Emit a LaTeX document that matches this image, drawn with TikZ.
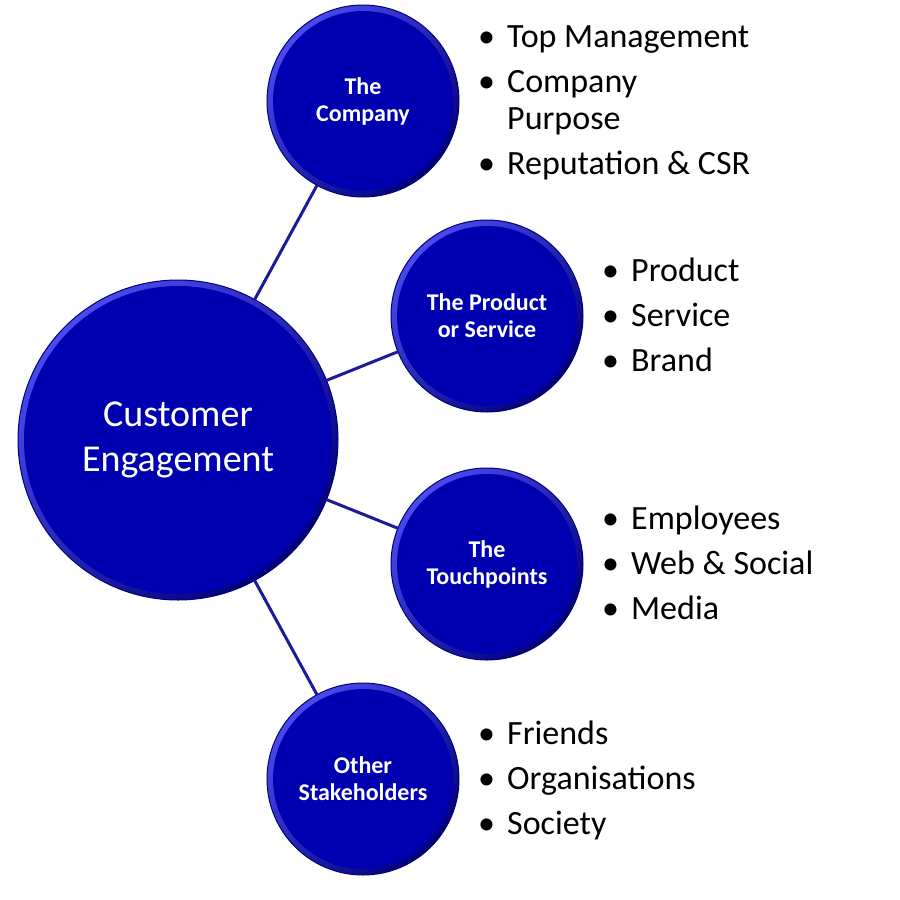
\documentclass[tikz,border=0pt]{standalone}
\usepackage{fontspec}
\setmainfont{Carlito}
\usetikzlibrary{positioning}
\definecolor{discblue}{HTML}{0000B0}
\definecolor{rimblue}{HTML}{4A4AEE}
\definecolor{edgeblue}{HTML}{00007A}
\definecolor{linkblue}{HTML}{1C1C98}

\tikzset{
  disc/.style={circle,draw=edgeblue,line width=1pt,inner sep=0pt,outer sep=0pt,
    minimum size=#1,top color=rimblue,bottom color=edgeblue,shading angle=45,
    path picture={\fill[discblue] (path picture bounding box.center) circle[radius={#1/2-6pt}];}},
  hubtext/.style={text=white,align=center,font=\fontsize{38}{45}\selectfont},
  topictext/.style={text=white,align=center,font=\bfseries\fontsize{24}{27}\selectfont},
  bulletlist/.style={anchor=base west,inner sep=0pt,font=\fontsize{34}{37}\selectfont},
  link/.style={draw=linkblue,line width=3pt}
}

\begin{document}
\begin{tikzpicture}[x=1pt,y=-1pt]
  \useasboundingbox[fill=white] (0,0) rectangle (900,900);
  % circles
  \node[disc=320pt,hubtext] (eng) at (178,440) {Customer\\Engagement};
  \node[disc=192pt,topictext] (comp) at (363,101) {The\\Company};
  \node[disc=192pt,topictext] (prod) at (487,316) {The Product\\or Service};
  \node[disc=192pt,topictext] (touch) at (487,564) {The\\Touchpoints};
  \node[disc=192pt,topictext] (other) at (363,779) {Other\\Stakeholders};
  \draw[link] (eng) -- (comp);
  \draw[link] (eng) -- (prod);
  \draw[link] (eng) -- (touch);
  \draw[link] (eng) -- (other);
  % bullet lists
  \node[bulletlist] (complist) at (478,47) {\begin{tabular}[t]{@{}p{29pt}@{}l@{}}
    \textbullet & Top Management\\[8pt]
    \textbullet & Company\\
                & Purpose\\[8pt]
    \textbullet & Reputation \& CSR
  \end{tabular}};
  \node[bulletlist] (prodlist) at (602,281) {\begin{tabular}[t]{@{}p{29pt}@{}l@{}}
    \textbullet & Product\\[8pt]
    \textbullet & Service\\[8pt]
    \textbullet & Brand
  \end{tabular}};
  \node[bulletlist] (touchlist) at (602,529) {\begin{tabular}[t]{@{}p{29pt}@{}l@{}}
    \textbullet & Employees\\[8pt]
    \textbullet & Web \& Social\\[8pt]
    \textbullet & Media
  \end{tabular}};
  \node[bulletlist] (otherlist) at (478,744) {\begin{tabular}[t]{@{}p{29pt}@{}l@{}}
    \textbullet & Friends\\[8pt]
    \textbullet & Organisations\\[8pt]
    \textbullet & Society
  \end{tabular}};
\end{tikzpicture}
\end{document}
